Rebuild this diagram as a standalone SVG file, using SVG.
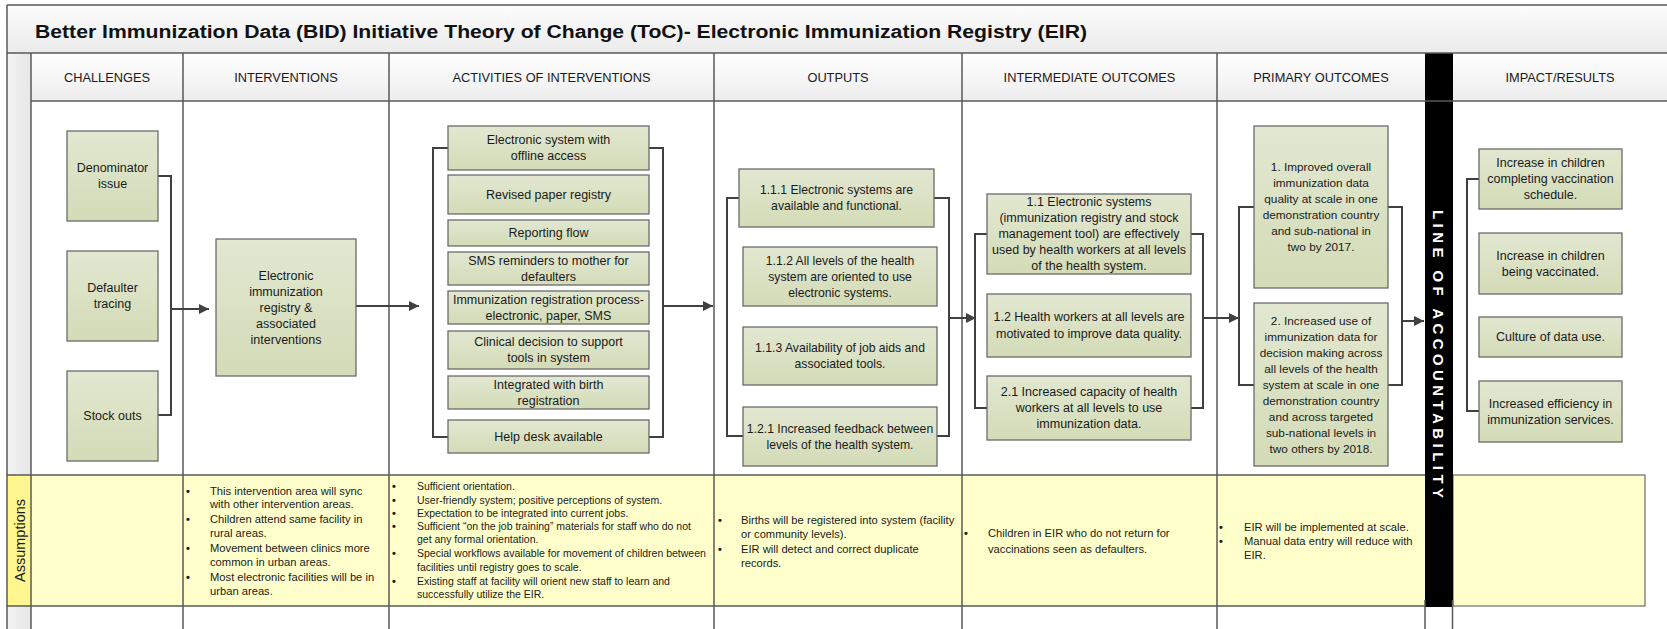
<svg xmlns="http://www.w3.org/2000/svg" width="1667" height="629" viewBox="0 0 1667 629">
<defs>
<linearGradient id="gBox" x1="0" y1="0" x2="0" y2="1"><stop offset="0" stop-color="#e2e8d1"/><stop offset="1" stop-color="#d3dbb7"/></linearGradient>
<linearGradient id="gTitle" x1="0" y1="0" x2="0" y2="1"><stop offset="0" stop-color="#fcfcfc"/><stop offset="1" stop-color="#ebebeb"/></linearGradient>
<linearGradient id="gHdr" x1="0" y1="0" x2="0" y2="1"><stop offset="0" stop-color="#ffffff"/><stop offset="1" stop-color="#ededed"/></linearGradient>
<linearGradient id="gStrip" x1="0" y1="0" x2="1" y2="0"><stop offset="0" stop-color="#f4f4f4"/><stop offset="1" stop-color="#e6e6e6"/></linearGradient>
<marker id="arr" markerUnits="userSpaceOnUse" markerWidth="10" markerHeight="10" refX="10" refY="5" orient="auto"><path d="M0,0 L10,5 L0,10 z" fill="#404040"/></marker>
<style>
.box{fill:url(#gBox);stroke:#6b6b6b;stroke-width:1.3}
.t{font-family:"Liberation Sans",Arial,sans-serif;font-size:12.5px;fill:#1a1a1a;text-anchor:middle}
.o{font-size:12.2px}
.p{font-size:11.8px}
.hdr{font-family:"Liberation Sans",Arial,sans-serif;font-size:12.8px;fill:#1a1a1a;text-anchor:middle}
.as{font-family:"Liberation Sans",Arial,sans-serif;font-size:11.2px;fill:#1a1a1a}
.as2{font-size:10.5px}
.b{font-size:11px;font-weight:bold}
.conn{fill:none;stroke:#404040;stroke-width:2}
.grid{stroke:#595959;stroke-width:1.5;fill:none}
.yel{fill:#ffffcc;stroke:#6b6b6b;stroke-width:1.2}
</style>
</defs>
<rect x="0" y="0" width="1667" height="629" fill="#ffffff"/>
<g id="frame">
<rect x="7" y="5" width="1670" height="48" fill="url(#gTitle)"/>
<text x="35" y="37.5" font-family="Liberation Sans, Arial, sans-serif" font-size="17.6" font-weight="bold" fill="#111" textLength="1052" lengthAdjust="spacingAndGlyphs">Better Immunization Data (BID) Initiative Theory of Change (ToC)- Electronic Immunization Registry (EIR)</text>
<rect x="31" y="53" width="1394" height="48" fill="url(#gHdr)"/>
<rect x="1453" y="53" width="214" height="48" fill="url(#gHdr)"/>
<rect x="7" y="53" width="24" height="576" fill="url(#gStrip)"/>
<rect x="31" y="475" width="1394" height="131" fill="#ffffcc"/>
<rect x="7" y="475" width="24" height="131" fill="#fff68f"/>
<rect x="1453" y="475" width="192" height="131" class="yel"/>
<rect x="1425" y="53" width="28" height="554" fill="#000"/>
<line class="grid" x1="7" y1="5" x2="1667" y2="5"/>
<line class="grid" x1="7" y1="5" x2="7" y2="629"/>
<line class="grid" x1="7" y1="53" x2="1667" y2="53"/>
<line class="grid" x1="31" y1="101" x2="1667" y2="101"/>
<line class="grid" x1="7" y1="475" x2="1425" y2="475"/>
<line class="grid" x1="7" y1="606" x2="1425" y2="606"/>
<line class="grid" x1="31" y1="53" x2="31" y2="629"/>
<line class="grid" x1="183" y1="53" x2="183" y2="629"/>
<line class="grid" x1="389" y1="53" x2="389" y2="629"/>
<line class="grid" x1="714" y1="53" x2="714" y2="629"/>
<line class="grid" x1="962" y1="53" x2="962" y2="629"/>
<line class="grid" x1="1217" y1="53" x2="1217" y2="629"/>
<line class="grid" x1="1425" y1="600" x2="1425" y2="629"/>
<line class="grid" x1="1452.5" y1="600" x2="1452.5" y2="629"/>
<text class="hdr" x="107" y="81.7">CHALLENGES</text>
<text class="hdr" x="286" y="81.7">INTERVENTIONS</text>
<text class="hdr" x="551.5" y="81.7">ACTIVITIES OF INTERVENTIONS</text>
<text class="hdr" x="838" y="81.7">OUTPUTS</text>
<text class="hdr" x="1089.5" y="81.7">INTERMEDIATE OUTCOMES</text>
<text class="hdr" x="1321" y="81.7">PRIMARY OUTCOMES</text>
<text class="hdr" x="1560" y="81.7">IMPACT/RESULTS</text>
<text transform="translate(1438.5,354) rotate(90)" font-family="Liberation Sans, Arial, sans-serif" font-size="15" font-weight="bold" fill="#ffffff" text-anchor="middle" dominant-baseline="central" textLength="288" lengthAdjust="spacing">LINE OF ACCOUNTABILITY</text>
<text transform="translate(19.5,540.5) rotate(-90)" font-family="Liberation Sans, Arial, sans-serif" font-size="14.5" fill="#1a1a1a" text-anchor="middle" dominant-baseline="central">Assumptions</text>
</g>
<g id="connectors">
<path class="conn" d="M158,176 H171 V415 H158"/>
<path class="conn" d="M171,309 H209" marker-end="url(#arr)"/>
<path class="conn" d="M356,306 H419" marker-end="url(#arr)"/>
<path class="conn" d="M448,148 H433 V437 H448"/>
<path class="conn" d="M649,148 H663 V437 H649"/>
<path class="conn" d="M663,306 H713" marker-end="url(#arr)"/>
<path class="conn" d="M739,198 H727 V436 H743"/>
<path class="conn" d="M934,198 H949 V436 H937"/>
<path class="conn" d="M949,318 H976" marker-end="url(#arr)"/>
<path class="conn" d="M987,234 H975 V408 H987"/>
<path class="conn" d="M1191,234 H1203 V408 H1191"/>
<path class="conn" d="M1203,318 H1239" marker-end="url(#arr)"/>
<path class="conn" d="M1254,207 H1239 V385 H1254"/>
<path class="conn" d="M1388,207 H1402 V385 H1388"/>
<path class="conn" d="M1402,321 H1424" marker-end="url(#arr)"/>
<path class="conn" d="M1479,179 H1467 V411 H1479"/>
</g>
<g id="c1"><rect class="box" x="67" y="131" width="91" height="90"/><text class="t" x="112.5" y="172.4">Denominator</text><text class="t" x="112.5" y="188.4">issue</text></g>
<g id="c2"><rect class="box" x="67" y="251" width="91" height="90"/><text class="t" x="112.5" y="292.4">Defaulter</text><text class="t" x="112.5" y="308.4">tracing</text></g>
<g id="c3"><rect class="box" x="67" y="371" width="91" height="90"/><text class="t" x="112.5" y="420.4">Stock outs</text></g>
<g id="int1"><rect class="box" x="216" y="239" width="140" height="137"/>
<text class="t" x="286" y="279.9">Electronic</text><text class="t" x="286" y="295.9">immunization</text><text class="t" x="286" y="311.9">registry &amp;</text><text class="t" x="286" y="327.9">associated</text><text class="t" x="286" y="343.9">interventions</text></g>
<g id="a1"><rect class="box" x="448" y="126" width="201" height="44"/><text class="t" x="548.5" y="144.4">Electronic system with</text><text class="t" x="548.5" y="160.4">offline access</text></g>
<g id="a2"><rect class="box" x="448" y="175" width="201" height="39"/><text class="t" x="548.5" y="198.9">Revised paper registry</text></g>
<g id="a3"><rect class="box" x="448" y="220" width="201" height="26"/><text class="t" x="548.5" y="237.4">Reporting flow</text></g>
<g id="a4"><rect class="box" x="448" y="252" width="201" height="33"/><text class="t" x="548.5" y="264.9">SMS reminders to mother for</text><text class="t" x="548.5" y="280.9">defaulters</text></g>
<g id="a5"><rect class="box" x="448" y="291" width="201" height="33"/><text class="t" x="548.5" y="303.9">Immunization registration process-</text><text class="t" x="548.5" y="319.9">electronic, paper, SMS</text></g>
<g id="a6"><rect class="box" x="448" y="331" width="201" height="38"/><text class="t" x="548.5" y="346.4">Clinical decision to support</text><text class="t" x="548.5" y="362.4">tools in system</text></g>
<g id="a7"><rect class="box" x="448" y="376" width="201" height="33"/><text class="t" x="548.5" y="388.9">Integrated with birth</text><text class="t" x="548.5" y="404.9">registration</text></g>
<g id="a8"><rect class="box" x="448" y="420" width="201" height="33"/><text class="t" x="548.5" y="440.9">Help desk available</text></g>
<g id="o1"><rect class="box" x="739" y="169" width="195" height="58"/><text class="t o" x="836.5" y="194.4">1.1.1 Electronic systems are</text><text class="t o" x="836.5" y="210.4">available and functional.</text></g>
<g id="o2"><rect class="box" x="743" y="247" width="194" height="59"/><text class="t o" x="840" y="264.9">1.1.2 All levels of the health</text><text class="t o" x="840" y="280.9">system are oriented to use</text><text class="t o" x="840" y="296.9">electronic systems.</text></g>
<g id="o3"><rect class="box" x="743" y="327" width="194" height="58"/><text class="t o" x="840" y="352.4">1.1.3 Availability of job aids and</text><text class="t o" x="840" y="368.4">associated tools.</text></g>
<g id="o4"><rect class="box" x="743" y="407" width="194" height="59"/><text class="t o" x="840" y="432.9">1.2.1 Increased feedback between</text><text class="t o" x="840" y="448.9">levels of the health system.</text></g>
<g id="i1"><rect class="box" x="987" y="194" width="204" height="80"/><text class="t" x="1089" y="206.4">1.1 Electronic systems</text><text class="t" x="1089" y="222.4">(immunization registry and stock</text><text class="t" x="1089" y="238.4">management tool) are effectively</text><text class="t" x="1089" y="254.4">used by health workers at all levels</text><text class="t" x="1089" y="270.4">of the health system.</text></g>
<g id="i2"><rect class="box" x="987" y="294" width="204" height="63"/><text class="t" x="1089" y="321.4">1.2 Health workers at all levels are</text><text class="t" x="1089" y="338.4">motivated to improve data quality.</text></g>
<g id="i3"><rect class="box" x="987" y="376" width="204" height="64"/><text class="t" x="1089" y="396.4">2.1 Increased capacity of health</text><text class="t" x="1089" y="412.4">workers at all levels to use</text><text class="t" x="1089" y="428.4">immunization data.</text></g>
<g id="p1"><rect class="box" x="1254" y="126" width="134" height="162"/><text class="t p" x="1321" y="171.4">1. Improved overall</text><text class="t p" x="1321" y="187.4">immunization data</text><text class="t p" x="1321" y="203.4">quality at scale in one</text><text class="t p" x="1321" y="219.4">demonstration country</text><text class="t p" x="1321" y="235.4">and sub-national in</text><text class="t p" x="1321" y="251.4">two by 2017.</text></g>
<g id="p2"><rect class="box" x="1254" y="303" width="134" height="163"/><text class="t p" x="1321" y="324.9">2. Increased use of</text><text class="t p" x="1321" y="340.9">immunization data for</text><text class="t p" x="1321" y="356.9">decision making across</text><text class="t p" x="1321" y="372.9">all levels of the health</text><text class="t p" x="1321" y="388.9">system at scale in one</text><text class="t p" x="1321" y="404.9">demonstration country</text><text class="t p" x="1321" y="420.9">and across targeted</text><text class="t p" x="1321" y="436.9">sub-national levels in</text><text class="t p" x="1321" y="452.9">two others by 2018.</text></g>
<g id="r1"><rect class="box" x="1479" y="149" width="143" height="60"/><text class="t" x="1550.5" y="167.4">Increase in children</text><text class="t" x="1550.5" y="183.4">completing vaccination</text><text class="t" x="1550.5" y="199.4">schedule.</text></g>
<g id="r2"><rect class="box" x="1479" y="233" width="143" height="61"/><text class="t" x="1550.5" y="259.9">Increase in children</text><text class="t" x="1550.5" y="275.9">being vaccinated.</text></g>
<g id="r3"><rect class="box" x="1479" y="317" width="143" height="40"/><text class="t" x="1550.5" y="341.4">Culture of data use.</text></g>
<g id="r4"><rect class="box" x="1479" y="381" width="143" height="61"/><text class="t" x="1550.5" y="407.9">Increased efficiency in</text><text class="t" x="1550.5" y="423.9">immunization services.</text></g>
<g id="as-int" class="as">
<text class="b" x="186" y="494.5">•</text><text x="210" y="494.5">This intervention area will sync</text><text x="210" y="508">with other intervention areas.</text>
<text class="b" x="186" y="523">•</text><text x="210" y="523">Children attend same facility in</text><text x="210" y="537">rural areas.</text>
<text class="b" x="186" y="552">•</text><text x="210" y="552">Movement between clinics more</text><text x="210" y="565.5">common in urban areas.</text>
<text class="b" x="186" y="581">•</text><text x="210" y="581">Most electronic facilities will be in</text><text x="210" y="594.5">urban areas.</text>
</g>
<g id="as-act" class="as as2">
<text class="b" x="392" y="489.5">•</text><text x="417" y="489.5">Sufficient orientation.</text>
<text class="b" x="392" y="503.5">•</text><text x="417" y="503.5">User-friendly system; positive perceptions of system.</text>
<text class="b" x="392" y="516.5">•</text><text x="417" y="516.5">Expectation to be integrated into current jobs.</text>
<text class="b" x="392" y="529.5">•</text><text x="417" y="529.5">Sufficient “on the job training” materials for staff who do not</text><text x="417" y="543">get any formal orientation.</text>
<text class="b" x="392" y="557">•</text><text x="417" y="557">Special workflows available for movement of children between</text><text x="417" y="570.5">facilities until registry goes to scale.</text>
<text class="b" x="392" y="584.5">•</text><text x="417" y="584.5">Existing staff at facility will orient new staff to learn and</text><text x="417" y="598">successfully utilize the EIR.</text>
</g>
<g id="as-out" class="as">
<text class="b" x="718" y="524">•</text><text x="741" y="524">Births will be registered into system (facility</text><text x="741" y="538.3">or community levels).</text>
<text class="b" x="718" y="553">•</text><text x="741" y="553">EIR will detect and correct duplicate</text><text x="741" y="566.7">records.</text>
</g>
<g id="as-inter" class="as">
<text class="b" x="964" y="537.3">•</text><text x="988" y="537.3">Children in EIR who do not return for</text><text x="988" y="553">vaccinations seen as defaulters.</text>
</g>
<g id="as-prim" class="as">
<text class="b" x="1219" y="530.7">•</text><text x="1244" y="530.7">EIR will be implemented at scale.</text>
<text class="b" x="1219" y="545">•</text><text x="1244" y="545">Manual data entry will reduce with</text><text x="1244" y="559">EIR.</text>
</g>
</svg>
